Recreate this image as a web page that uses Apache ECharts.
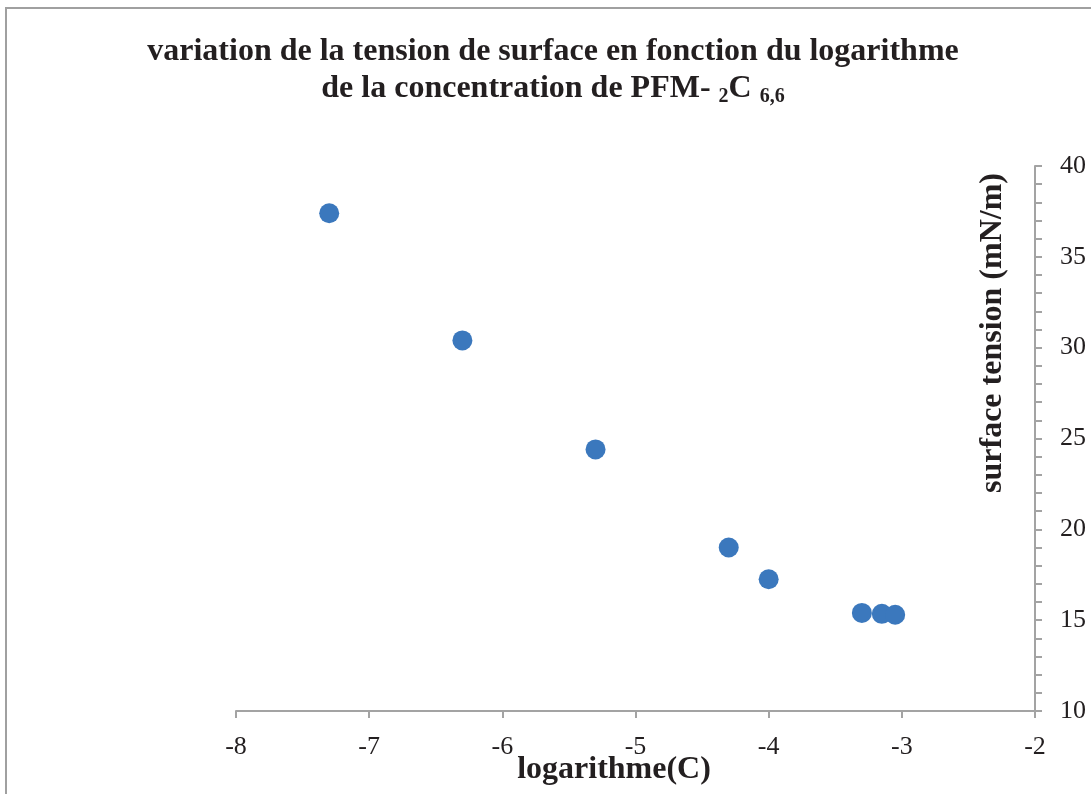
<!DOCTYPE html>
<html>
<head>
<meta charset="utf-8">
<script src="https://cdn.jsdelivr.net/npm/echarts@6/dist/echarts.min.js"></script>
<style>
html,body{margin:0;padding:0;background:#fff;}
#chart{width:1091px;height:794px;}
</style>
</head>
<body>
<div id="chart"></div>
<script>
// Data
const logC = [-7.3, -6.3, -5.3, -4.3, -4.0, -3.3, -3.15, -3.05];
const surfaceTension = [37.4, 30.4, 24.4, 19.0, 17.25, 15.4, 15.35, 15.3];
const xTicks = [-8, -7, -6, -5, -4, -3, -2];
const yTicks = [10, 15, 20, 25, 30, 35, 40];
const titleLine1 = 'variation de la tension de surface en fonction du logarithme';
const titleLine2 = 'de la concentration de PFM- {sub|2}C {sub|6,6}';
const xName = 'logarithme(C)';
const yName = 'surface tension (mN/m)';

const points = logC.map((x, i) => [x, surfaceTension[i]]);
const axisGray = '#a3a3a3';
const textDark = '#231f20';
const serif = '"Liberation Serif", "Times New Roman", serif';

const chart = echarts.init(document.getElementById('chart'), null, {renderer: 'canvas'});
chart.setOption({
  animation: false,
  backgroundColor: '#fff',
  title: {
    text: titleLine1 + '\n' + titleLine2,
    left: 548,
    top: 28,
    textAlign: 'center',
    textStyle: {
      fontFamily: serif,
      fontWeight: 'bold',
      fontSize: 32,
      lineHeight: 37,
      color: textDark,
      rich: {
        sub: {
          fontFamily: serif,
          fontWeight: 'bold',
          fontSize: 20,
          lineHeight: 20,
          verticalAlign: 'bottom',
          color: textDark
        }
      }
    }
  },
  grid: {left: 236, right: 56, top: 166, bottom: 83, containLabel: false, outerBoundsMode: 'none'},
  xAxis: {
    type: 'value',
    min: xTicks[0],
    max: xTicks[xTicks.length - 1],
    interval: 1,
    position: 'bottom',
    name: xName,
    nameLocation: 'middle',
    nameGap: 43,
    nameMoveOverlap: false,
    nameTextStyle: {
      fontFamily: serif, fontWeight: 'bold', fontSize: 32, color: textDark,
      padding: [0, 43, 0, 0]
    },
    axisLine: {onZero: false, lineStyle: {color: axisGray, width: 2}},
    axisTick: {show: true, inside: false, length: 7, lineStyle: {color: axisGray, width: 2}},
    axisLabel: {fontFamily: serif, fontSize: 26, color: textDark, margin: 23},
    splitLine: {show: false}
  },
  yAxis: {
    type: 'value',
    min: yTicks[0],
    max: yTicks[yTicks.length - 1],
    interval: 5,
    position: 'right',
    axisLine: {show: true, onZero: false, lineStyle: {color: axisGray, width: 2}},
    axisTick: {show: true, inside: false, length: 7, lineStyle: {color: axisGray, width: 2}},
    minorTick: {show: true, splitNumber: 5, length: 7, lineStyle: {color: axisGray, width: 2}},
    axisLabel: {fontFamily: serif, fontSize: 26, color: textDark, margin: 25},
    splitLine: {show: false}
  },
  graphic: [
    {
      type: 'rect',
      shape: {x: 6, y: 8, width: 1200, height: 900},
      style: {fill: 'none', stroke: '#a0a0a0', lineWidth: 2},
      silent: true,
      z: -1
    },
    {
      type: 'text',
      x: 993,
      y: 333,
      rotation: Math.PI / 2,
      style: {
        text: yName,
        fontFamily: serif,
        fontWeight: 'bold',
        fontSize: 32,
        fill: textDark,
        align: 'center',
        verticalAlign: 'middle'
      }
    }
  ],
  series: [{
    type: 'scatter',
    data: points,
    symbol: 'circle',
    symbolSize: 20,
    itemStyle: {color: '#3b78bd', opacity: 1}
  }]
});
</script>
</body>
</html>
